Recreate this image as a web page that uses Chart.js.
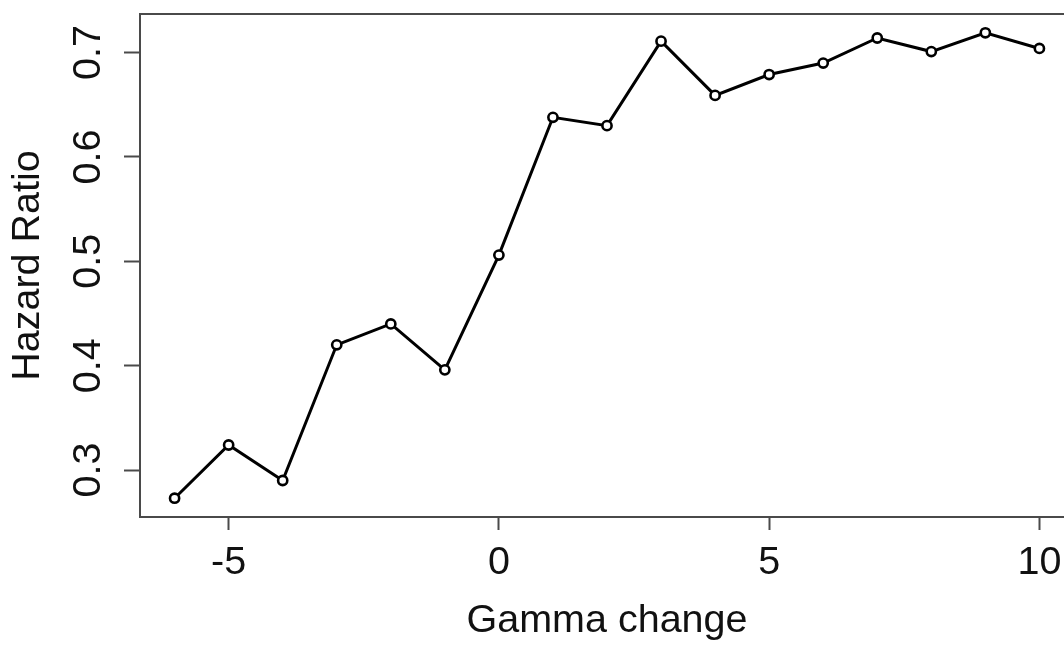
<!DOCTYPE html>
<html>
<head>
<meta charset="utf-8">
<script src="https://cdn.jsdelivr.net/npm/chart.js@4/dist/chart.umd.min.js"></script>
<style>
  html, body { margin: 0; padding: 0; background: #fff; overflow: hidden; width: 1064px; height: 645px; }
  canvas { display: block; }
</style>
</head>
<body>
<canvas id="c" width="1100" height="645" style="width:1100px;height:645px"></canvas>
<script>
// Data
const gammaChange = [-6, -5, -4, -3, -2, -1, 0, 1, 2, 3, 4, 5, 6, 7, 8, 9, 10];
const hazardRatio = [0.273, 0.324, 0.290, 0.420, 0.440, 0.396, 0.506, 0.638, 0.630, 0.711, 0.659, 0.679, 0.690, 0.714, 0.701, 0.719, 0.704];
const xTicks = [-5, 0, 5, 10];
const yTicks = [0.3, 0.4, 0.5, 0.6, 0.7];
const xTitle = 'Gamma change';
const yTitle = 'Hazard Ratio';

const FONT = 'Liberation Sans, Arial, Helvetica, sans-serif';
const FSIZE = 39.5;
const AXIS_COLOR = '#4a4a4a';

const boxPlugin = {
  id: 'box',
  afterDraw(chart) {
    const a = chart.chartArea, ctx = chart.ctx;
    ctx.save();
    ctx.strokeStyle = AXIS_COLOR;
    ctx.lineWidth = 2;
    ctx.strokeRect(a.left, a.top, a.right - a.left, a.bottom - a.top);
    ctx.restore();
  }
};

new Chart(document.getElementById('c'), {
  type: 'scatter',
  data: {
    datasets: [{
      data: gammaChange.map((x, i) => ({ x: x, y: hazardRatio[i] })),
      showLine: true,
      borderColor: '#000',
      borderWidth: 3,
      pointRadius: 4.6,
      pointBorderWidth: 2.6,
      pointBorderColor: '#000',
      pointBackgroundColor: '#fff',
      tension: 0
    }]
  },
  options: {
    responsive: false,
    animation: false,
    devicePixelRatio: 1,
    layout: { padding: { top: 14, right: 26, left: 0, bottom: 0 } },
    plugins: { legend: { display: false }, tooltip: { enabled: false } },
    scales: {
      x: {
        type: 'linear',
        min: -6.64,
        max: 10.64,
        afterBuildTicks: s => { s.ticks = xTicks.map(v => ({ value: v })); },
        afterFit: s => { s.height = 128; s.paddingLeft = 0; s.paddingRight = 0; },
        border: { display: true, color: AXIS_COLOR, width: 2 },
        grid: { drawOnChartArea: false, drawTicks: true, tickLength: 13, tickColor: AXIS_COLOR, tickWidth: 2 },
        ticks: { color: '#111', font: { family: FONT, size: FSIZE }, padding: 9, maxRotation: 0, minRotation: 0, callback: v => String(v) },
        title: { display: true, text: xTitle, color: '#111', font: { family: FONT, size: FSIZE }, padding: { top: 0, bottom: 0 } }
      },
      y: {
        type: 'linear',
        min: 0.255,
        max: 0.737,
        afterBuildTicks: s => { s.ticks = yTicks.map(v => ({ value: v })); },
        afterFit: s => { s.width = 140; s.paddingTop = 0; s.paddingBottom = 0; },
        border: { display: true, color: AXIS_COLOR, width: 2 },
        grid: { drawOnChartArea: false, drawTicks: true, tickLength: 16, tickColor: AXIS_COLOR, tickWidth: 2 },
        ticks: { color: '#111', font: { family: FONT, size: FSIZE }, padding: 7, minRotation: 90, maxRotation: 90, crossAlign: 'center', callback: v => v.toFixed(1) },
        title: { display: true, text: yTitle, color: '#111', font: { family: FONT, size: FSIZE }, padding: { top: 4, bottom: 0 } }
      }
    }
  },
  plugins: [boxPlugin]
});
</script>
</body>
</html>
